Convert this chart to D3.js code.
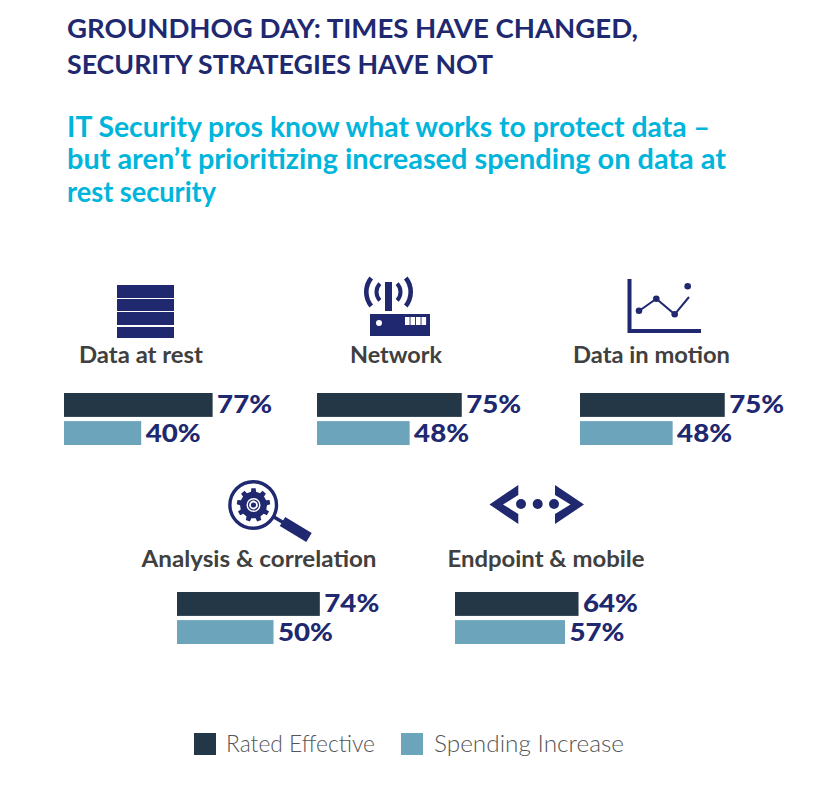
<!DOCTYPE html>
<html><head><meta charset="utf-8">
<script src="https://cdn.jsdelivr.net/npm/d3@7"></script>
<style>html,body{margin:0;background:#fff}svg{display:block}text{font-family:Lato,"Open Sans",sans-serif}</style>
</head><body><svg id="c" width="814" height="792"></svg>
<script>
const categories = ["Data at rest","Network","Data in motion","Analysis & correlation","Endpoint & mobile"];
const ratedEffective = [77,75,75,74,64];
const spendingIncrease = [40,48,48,50,57];
const seriesNames = ["Rated Effective","Spending Increase"];
const titleLines = ["GROUNDHOG DAY: TIMES HAVE CHANGED,","SECURITY STRATEGIES HAVE NOT"];
const subtitleLines = ["IT Security pros know what works to protect data –","but aren’t prioritizing increased spending on data at","rest security"];
const NAVY="#20286f", DARK="#233746", TEAL="#6ca4bc", GREY="#404040", CYAN="#00b5dc";

const layout = [
 {x:64,y:393,lx:141,ly:363},{x:317,y:393,lx:396,ly:363},{x:580,y:393,lx:651.5,ly:363},
 {x:177,y:592,lx:259,ly:567},{x:455,y:592,lx:546,ly:567}];

const svg=d3.select("#c");
const fit=(s,w)=>s.attr("textLength",w).attr("lengthAdjust","spacingAndGlyphs");

const titleW=[571,426];
titleLines.forEach((t,i)=>fit(svg.append("text").attr("x",67).attr("y",[38,74][i]).attr("font-size",27).attr("font-weight",700).attr("fill",NAVY).text(t),titleW[i]));
const subW=[643,659,149];
subtitleLines.forEach((t,i)=>fit(svg.append("text").attr("x",67).attr("y",[137,169,202][i]).attr("font-size",29).attr("font-weight",700).attr("fill",CYAN).text(t),subW[i]));

const x=d3.scaleLinear().domain([0,100]).range([0,193]);
const y=d3.scaleBand().domain(seriesNames).range([0,52]).paddingInner(0.15);
const color=d3.scaleOrdinal().domain(seriesNames).range([DARK,TEAL]);
const labelW=[124,92,157,235,197];

categories.forEach((c,i)=>{
 const p=layout[i];
 fit(svg.append("text").attr("x",p.lx).attr("y",p.ly).attr("text-anchor","middle").attr("font-size",23).attr("font-weight",700).attr("fill",GREY).text(c),labelW[i]);
 const g=svg.append("g").attr("transform",`translate(${p.x},${p.y})`);
 const rows=[ratedEffective[i],spendingIncrease[i]];
 g.selectAll("rect").data(rows).join("rect")
  .attr("x",0).attr("y",(d,j)=>y(seriesNames[j])).attr("width",d=>x(d)).attr("height",y.bandwidth())
  .attr("fill",(d,j)=>color(seriesNames[j]));
 g.selectAll("text").data(rows).join("text")
  .attr("x",d=>x(d)+4.5).attr("y",(d,j)=>y(seriesNames[j])+y.bandwidth()-3.5)
  .attr("font-size",25).attr("font-weight",900).attr("fill",NAVY)
  .attr("textLength",55).attr("lengthAdjust","spacingAndGlyphs").text(d=>d+"%");
});

// legend
const legX=[194,401], legT=[226,434], legW=[149,190];
seriesNames.forEach((s,i)=>{
 svg.append("rect").attr("x",legX[i]).attr("y",733).attr("width",22).attr("height",22).attr("fill",color(s));
 fit(svg.append("text").attr("x",legT[i]).attr("y",752).attr("font-size",24).attr("font-weight",300).attr("fill","#555").text(s),legW[i]);
});

// icons
const ic=svg.append("g").attr("fill",NAVY);
[[285,13],[299,12],[312,13],[327,11]].forEach(r=>ic.append("rect").attr("x",117).attr("y",r[0]).attr("width",57).attr("height",r[1]));

ic.append("rect").attr("x",385).attr("y",282).attr("width",7).attr("height",29);
ic.append("rect").attr("x",370).attr("y",314).attr("width",60).attr("height",22);
ic.append("circle").attr("cx",379).attr("cy",323).attr("r",3).attr("fill","#fff");
[405,410.5,416,421.5].forEach(a=>ic.append("rect").attr("x",a).attr("y",317).attr("width",4.6).attr("height",8).attr("fill","#fff"));
const arc=(r,h,a,w)=>d3.arc()({innerRadius:r-h,outerRadius:r+h,startAngle:a-w,endAngle:a+w});
[[22.2,2.3,.68],[12,2,.77]].forEach(([r,h,w])=>{
 [-Math.PI/2,Math.PI/2].forEach(a=>ic.append("path").attr("transform","translate(388.5,292)").attr("d",arc(r,h,a,w)));
});

ic.append("path").attr("d","M629.5 279V331H701").attr("fill","none").attr("stroke",NAVY).attr("stroke-width",4);
ic.append("path").attr("d","M639 311L656.3 298.7L674.7 314.3L689 297").attr("fill","none").attr("stroke",NAVY).attr("stroke-width",2);
[[639,310.7],[656.3,298.7],[674.7,314.3],[687.7,286.3]].forEach(d=>ic.append("circle").attr("cx",d[0]).attr("cy",d[1]).attr("r",3.3));

ic.append("circle").attr("cx",253.2).attr("cy",505).attr("r",23.3).attr("fill","none").attr("stroke",NAVY).attr("stroke-width",3.4);
const gear=[];for(let k=0;k<9;k++){const a=k/9*2*Math.PI;
 [[-.19,13.5],[-.13,16.8],[.13,16.8],[.19,13.5]].forEach(([o,r])=>gear.push([253.5+r*Math.sin(a+o),505-r*Math.cos(a+o)]));}
ic.append("path").attr("d",d3.line()(gear)+"Z");
ic.append("circle").attr("cx",253.5).attr("cy",505).attr("r",7).attr("fill","#fff");
ic.append("circle").attr("cx",253.5).attr("cy",505).attr("r",5).attr("fill","none").attr("stroke",NAVY).attr("stroke-width",1.2);
ic.append("circle").attr("cx",253.5).attr("cy",505).attr("r",2.6).attr("fill",NAVY);
ic.append("path").attr("d","M274 517L284 523").attr("stroke",NAVY).attr("stroke-width",3.5);
ic.append("path").attr("d","M282.5 521.5L309 537.5").attr("stroke",NAVY).attr("stroke-width",10.5);

ic.append("path").attr("d","M489.5 504.5L518.3 485V495L503 504.5L518.3 514V524Z");
ic.append("path").attr("d","M584 504.5L555 485V495L570.5 504.5L555 514V524Z");
[521,537.7,554].forEach(a=>ic.append("circle").attr("cx",a).attr("cy",504).attr("r",5));
</script></body></html>
